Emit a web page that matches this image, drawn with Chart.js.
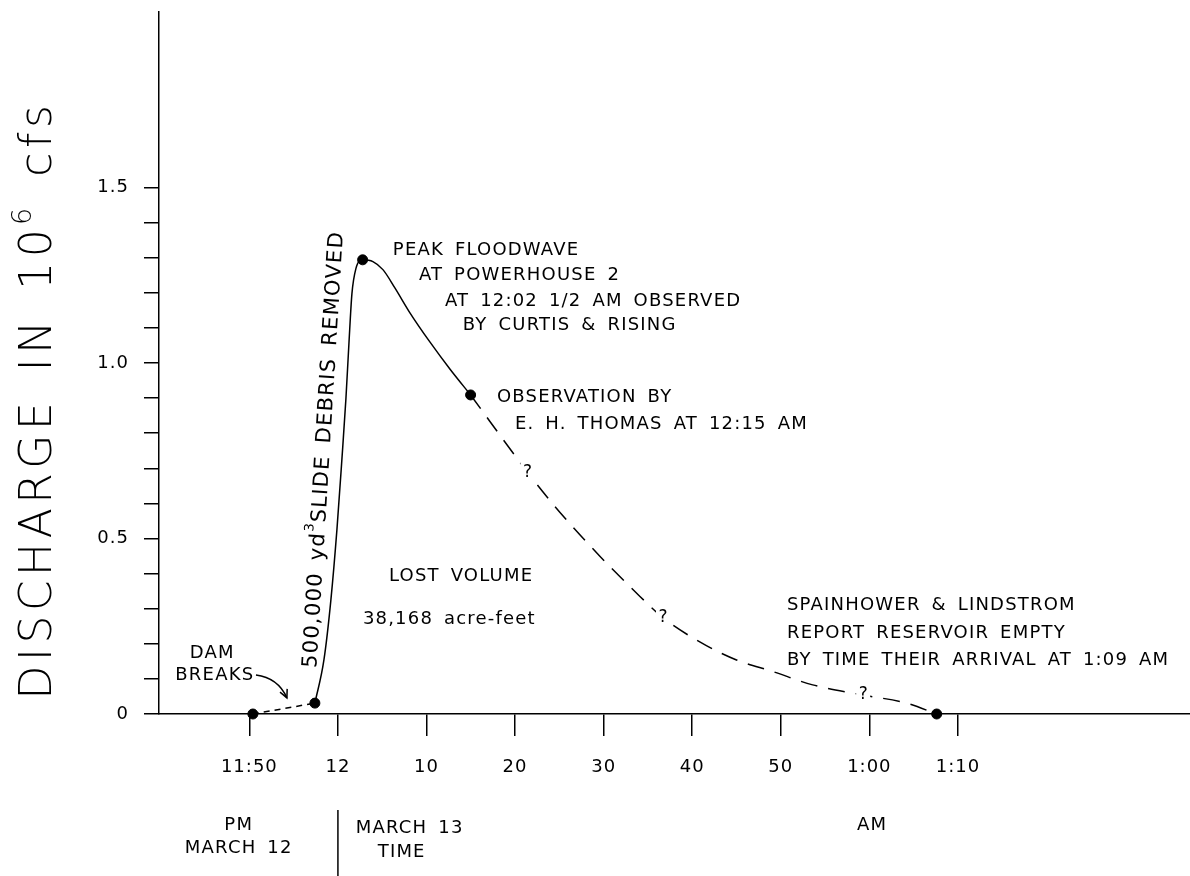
<!DOCTYPE html>
<html>
<head>
<meta charset="utf-8">
<script src="https://cdn.jsdelivr.net/npm/chart.js@4"></script>
<style>
  html, body { margin: 0; padding: 0; background: #fff; }
  canvas { display: block; }
</style>
</head>
<body>
<canvas id="chart" width="1190" height="876"></canvas>
<script>
// time in minutes relative to midnight (negative = 11:xx PM March 12)
// discharge in 10^6 cfs

// observed points
const dotMinutes = [-9.6, -2.6, 2.79, 14.98, 67.6];
const dotFlow    = [0, 0.031, 1.294, 0.909, 0];

// dam break -> slide debris removed (dotted)
const breakMinutes = [-9.6, -2.6];
const breakFlow    = [0, 0.031];

// rise to peak and fall to Thomas observation (solid)
const riseMinutes = [-2.6, -1.58, -0.79, -0.11, 0.45, 0.90, 1.24, 1.58, 2.03, 2.79,
                     3.95, 5.08, 6.43, 8.13, 10.38, 12.64, 14.98];
const riseFlow    = [0.031, 0.154, 0.326, 0.526, 0.726, 0.897, 1.054, 1.197, 1.269, 1.294,
                     1.289, 1.266, 1.214, 1.143, 1.06, 0.983, 0.909];

// estimated recession (dashed)
const tailMinutes = [14.98, 21.4, 25.05, 29.6, 34.1, 36.7, 41.6, 45.0, 49.1, 53.6, 59.3, 64.2, 67.6];
const tailFlow    = [0.909, 0.689, 0.575, 0.449, 0.335, 0.274, 0.195, 0.154, 0.121, 0.083, 0.054, 0.031, 0];

// "?" marks sitting on the dashed curve
const queryMinutes = [21.4, 36.7, 59.3];
const queryFlow    = [0.689, 0.274, 0.054];

const xTicks      = [-10, 0, 10, 20, 30, 40, 50, 60, 70];
const xTickLabels = ['11:50', '12', '10', '20', '30', '40', '50', '1:00', '1:10'];
const yTicks      = [0, 0.1, 0.2, 0.3, 0.4, 0.5, 0.6, 0.7, 0.8, 0.9, 1.0, 1.1, 1.2, 1.3, 1.4, 1.5];
const yTickLabels = ['0', '', '', '', '', '0.5', '', '', '', '', '1.0', '', '', '', '', '1.5'];

const FONT = '"DejaVu Sans"';

const toPoints = (xs, ys) => xs.map((x, i) => ({ x: x, y: ys[i] }));

// text notes, placed in data units
const notes = [
  { text: 'PEAK FLOODWAVE', x: 6.2, y: 1.32 },
  { text: 'AT POWERHOUSE 2', x: 9.14, y: 1.249 },
  { text: 'AT 12:02 1/2 AM OBSERVED', x: 12.08, y: 1.177 },
  { text: 'BY CURTIS & RISING', x: 14.1, y: 1.106 },
  { text: 'OBSERVATION BY', x: 17.95, y: 0.903 },
  { text: 'E. H. THOMAS AT 12:15 AM', x: 19.98, y: 0.826 },
  { text: 'LOST VOLUME', x: 5.76, y: 0.391 },
  { text: '38,168 acre-feet', x: 2.82, y: 0.269 },
  { text: 'SPAINHOWER & LINDSTROM', x: 50.7, y: 0.309 },
  { text: 'REPORT RESERVOIR EMPTY', x: 50.7, y: 0.231 },
  { text: 'BY TIME THEIR ARRIVAL AT 1:09 AM', x: 50.7, y: 0.154 },
  { text: 'DAM', x: -14.2, y: 0.174, align: 'center' },
  { text: 'BREAKS', x: -13.9, y: 0.111, align: 'center' },
];

// labels under the time axis (x in data units, y in pixels)
const footer = [
  { text: 'PM', x: -11.2, py: 825 },
  { text: 'MARCH 12', x: -11.2, py: 848 },
  { text: 'MARCH 13', x: 8.1, py: 828 },
  { text: 'TIME', x: 7.2, py: 852 },
  { text: 'AM', x: 60.3, py: 825 },
];

// draw text with "^n" superscripts
function drawText(ctx, str, x, y, o) {
  const parts = str.split(/\^(\d)/).map((t, i) => ({ t: t, sup: i % 2 === 1 })).filter(p => p.t);
  ctx.save();
  ctx.translate(x, y);
  ctx.rotate((o.angle || 0) * Math.PI / 180);
  ctx.fillStyle = '#000';
  ctx.textAlign = 'left';
  ctx.textBaseline = o.baseline || 'middle';
  ctx.letterSpacing = (o.ls != null ? o.ls : 1.2) + 'px';
  ctx.wordSpacing = (o.ws != null ? o.ws : 4) + 'px';
  const weight = o.weight || 'normal';
  const big = weight + ' ' + o.size + 'px ' + FONT;
  const small = weight + ' ' + Math.round(o.size * 0.62) + 'px ' + FONT;
  const widths = parts.map(p => { ctx.font = p.sup ? small : big; return ctx.measureText(p.t).width; });
  const total = widths.reduce((a, b) => a + b, 0);
  let cx = o.align === 'center' ? -total / 2 : 0;
  parts.forEach((p, i) => {
    ctx.font = p.sup ? small : big;
    ctx.fillText(p.t, cx, p.sup ? -o.size * 0.45 : 0);
    cx += widths[i];
  });
  ctx.restore();
}

const annotate = {
  id: 'annotate',
  beforeDraw(chart) {
    const ctx = chart.ctx;
    ctx.save();
    ctx.fillStyle = '#fff';
    ctx.fillRect(0, 0, chart.width, chart.height);
    ctx.restore();
    ctx.letterSpacing = '1px';
  },
  afterDatasetsDraw(chart) {
    const ctx = chart.ctx;
    const sx = chart.scales.x, sy = chart.scales.y;
    const X = v => sx.getPixelForValue(v), Y = v => sy.getPixelForValue(v);

    // question marks break the dashed line
    queryMinutes.forEach((m, i) => {
      const px = X(m), py = Y(queryFlow[i]);
      ctx.save();
      ctx.fillStyle = '#fff';
      ctx.fillRect(px - 7, py - 10, 14, 20);
      ctx.restore();
      drawText(ctx, '?', px, py, { size: 17, align: 'center', ls: 0 });
    });

    notes.forEach(n => drawText(ctx, n.text, X(n.x), Y(n.y), { size: 18, align: n.align }));

    // slanted label along the rising limb
    drawText(ctx, '500,000 yd^3SLIDE DEBRIS REMOVED', X(-3.05), Y(0.131),
      { size: 21, angle: -86.5, ls: 1.3, ws: 4 });

    // arrow from "DAM BREAKS"
    const a0 = [X(-9.25), Y(0.111)], ac = [X(-6.77), Y(0.103)], a1 = [X(-5.76), Y(0.046)];
    ctx.save();
    ctx.strokeStyle = '#000';
    ctx.lineWidth = 1.5;
    ctx.beginPath();
    ctx.moveTo(a0[0], a0[1]);
    ctx.quadraticCurveTo(ac[0], ac[1], a1[0], a1[1]);
    ctx.stroke();
    const ang = Math.atan2(a1[1] - ac[1], a1[0] - ac[0]);
    ctx.beginPath();
    ctx.moveTo(a1[0] - 9 * Math.cos(ang - 0.45), a1[1] - 9 * Math.sin(ang - 0.45));
    ctx.lineTo(a1[0], a1[1]);
    ctx.lineTo(a1[0] - 9 * Math.cos(ang + 0.45), a1[1] - 9 * Math.sin(ang + 0.45));
    ctx.stroke();
    ctx.restore();

    // footer: date labels and the midnight divider
    footer.forEach(f => drawText(ctx, f.text, X(f.x), f.py, { size: 18, align: 'center' }));
    ctx.save();
    ctx.strokeStyle = '#000';
    ctx.lineWidth = 1.5;
    ctx.beginPath();
    ctx.moveTo(X(0), 810);
    ctx.lineTo(X(0), 876);
    ctx.stroke();
    ctx.restore();

    // axis title
    drawText(ctx, 'DISCHARGE IN 10^6 cfs', 51, 400,
      { size: 44, angle: -90, align: 'center', baseline: 'alphabetic', ls: 4.5, ws: 8, weight: '200' });
  },
};

const lineStyle = {
  showLine: true,
  borderColor: '#000',
  borderWidth: 1.5,
  pointRadius: 0,
  fill: false,
  clip: false,
};

// keep the plot area pinned: no extra label padding around the scales
function noPad(s) {
  s.paddingTop = 0;
  s.paddingBottom = 0;
  s.paddingLeft = 0;
  s.paddingRight = 0;
}

new Chart(document.getElementById('chart'), {
  type: 'scatter',
  data: {
    datasets: [
      {
        data: toPoints(dotMinutes, dotFlow),
        pointRadius: 5,
        pointBackgroundColor: '#000',
        pointBorderColor: '#000',
        showLine: false,
        clip: false,
      },
      Object.assign({ data: toPoints(breakMinutes, breakFlow), borderDash: [6, 5] }, lineStyle),
      Object.assign({ data: toPoints(riseMinutes, riseFlow), cubicInterpolationMode: 'monotone' }, lineStyle),
      Object.assign({ data: toPoints(tailMinutes, tailFlow), cubicInterpolationMode: 'monotone', borderDash: [17, 11] }, lineStyle),
    ],
  },
  options: {
    responsive: false,
    animation: false,
    devicePixelRatio: 1,
    layout: { autoPadding: false, padding: { top: 12, left: 0, right: 0, bottom: 0 } },
    plugins: { legend: { display: false }, tooltip: { enabled: false } },
    scales: {
      x: {
        type: 'linear',
        min: -20.2,
        max: 96.2,
        afterFit(s) { s.height = 162; noPad(s); },
        afterBuildTicks(s) { s.ticks = xTicks.map(v => ({ value: v })); },
        grid: { drawOnChartArea: false, drawTicks: true, tickLength: 22, color: '#000', lineWidth: 1.5 },
        border: { display: true, color: '#000', width: 1.5 },
        ticks: {
          autoSkip: false, maxRotation: 0, padding: 21, color: '#000',
          font: { family: 'DejaVu Sans', size: 18 },
          callback: (v, i) => xTickLabels[i],
        },
      },
      y: {
        min: 0,
        max: 2.0,
        afterFit(s) { s.width = 159; noPad(s); },
        afterBuildTicks(s) { s.ticks = yTicks.map(v => ({ value: v })); },
        grid: { drawOnChartArea: false, drawTicks: true, tickLength: 15, color: '#000', lineWidth: 1.5 },
        border: { display: true, color: '#000', width: 1.5 },
        ticks: {
          autoSkip: false, padding: 15, color: '#000',
          font: { family: 'DejaVu Sans', size: 18 },
          callback: (v, i) => yTickLabels[i],
        },
      },
    },
  },
  plugins: [annotate],
});
</script>
</body>
</html>
